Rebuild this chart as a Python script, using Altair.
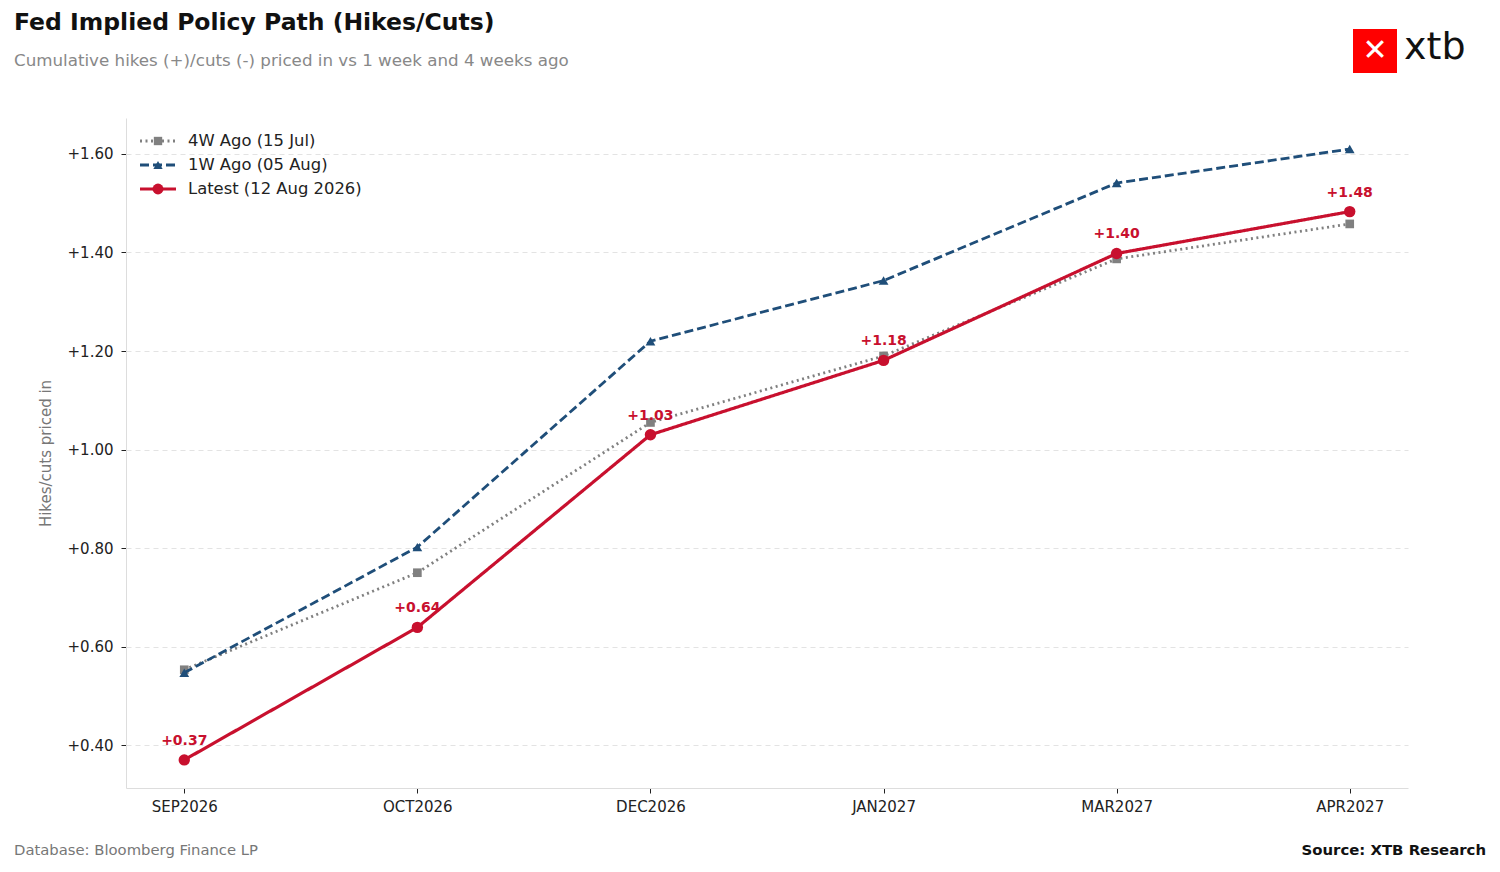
import pandas as pd
import altair as alt

months = ["SEP2026", "OCT2026", "DEC2026", "JAN2027", "MAR2027", "APR2027"]
ago_4w = [0.553, 0.750, 1.055, 1.190, 1.387, 1.458]
ago_1w = [0.547, 0.802, 1.220, 1.343, 1.541, 1.610]
latest = [0.370, 0.639, 1.030, 1.181, 1.398, 1.483]
series_names = ["4W Ago (15 Jul)", "1W Ago (05 Aug)", "Latest (12 Aug 2026)"]

W, H = 1282, 670
FONT = "DejaVu Sans"

x_enc = alt.X("month:N", sort=months, title=None,
              scale=alt.Scale(type="point", padding=0.25),
              axis=alt.Axis(labelAngle=0, labelFontSize=15, labelColor="#222",
                            domainColor="#ddd", tickColor="#222", tickSize=5,
                            labelPadding=6, grid=False, labelFont=FONT))
y_enc = alt.Y("value:Q", title="Hikes/cuts priced in",
              scale=alt.Scale(domain=[0.313, 1.673], nice=False, zero=False),
              axis=alt.Axis(values=[0.4, 0.6, 0.8, 1.0, 1.2, 1.4, 1.6], format="+.2f",
                            labelFontSize=15, labelColor="#222", domainColor="#ddd",
                            tickColor="#222", tickSize=5, grid=True, gridColor="#e3e3e3",
                            gridDash=[5, 4], titleFontSize=15, titleColor="#777",
                            titleFontWeight="normal", titlePadding=14, labelPadding=8,
                            labelFont=FONT, titleFont=FONT))


def series(vals, color, dash, width, shape, size):
    df = pd.DataFrame({"month": months, "value": vals})
    base = alt.Chart(df).encode(x=x_enc, y=y_enc)
    line = base.mark_line(color=color, strokeDash=dash, strokeWidth=width)
    pts = base.mark_point(color=color, filled=True, opacity=1, shape=shape, size=size)
    return line + pts


l4 = series(ago_4w, "#808080", [2, 3.5], 2.8, "square", 75)
l1 = series(ago_1w, "#1f4e79", [9, 4], 2.8, "triangle-up", 95)
ll = series(latest, "#c8102e", [1, 0], 3.2, "circle", 130)

lab_df = pd.DataFrame({"month": months, "value": latest,
                       "label": [f"{v:+.2f}" for v in latest]})
labels = alt.Chart(lab_df).mark_text(color="#c8102e", fontWeight="bold", fontSize=14,
                                     dy=-19, font=FONT).encode(x=x_enc, y=y_enc, text="label:N")

# manual legend
leg_rows = [(23, "#808080", [2, 3.5], "square", 70),
            (47, "#1f4e79", [9, 4], "triangle-up", 85),
            (71, "#c8102e", [1, 0], "circle", 120)]
legend = []
for (yy, c, d, s, sz), name in zip(leg_rows, series_names):
    one = pd.DataFrame({"t": [name]})
    legend.append(alt.Chart(one).mark_rule(color=c, strokeDash=d, strokeWidth=2.8).encode(
        x=alt.value(14), x2=alt.value(50), y=alt.value(yy)))
    legend.append(alt.Chart(one).mark_point(color=c, filled=True, opacity=1, shape=s, size=sz).encode(
        x=alt.value(32), y=alt.value(yy)))
    legend.append(alt.Chart(one).mark_text(align="left", baseline="middle", fontSize=16.4,
                                           color="#222", font=FONT).encode(
        x=alt.value(62), y=alt.value(yy), text="t:N"))


def txt(s, x, y, size, color, weight="normal", align="left"):
    return alt.Chart(pd.DataFrame({"t": [s]})).mark_text(
        align=align, baseline="middle", fontSize=size, color=color, fontWeight=weight,
        font=FONT).encode(x=alt.value(x), y=alt.value(y), text="t:N")


title = txt("Fed Implied Policy Path (Hikes/Cuts)", -112, -95, 23.5, "#111", "bold")
subtitle = txt("Cumulative hikes (+)/cuts (-) priced in vs 1 week and 4 weeks ago", -112, -57, 16.7, "#888")
foot_l = txt("Database: Bloomberg Finance LP", -112, 733, 14.8, "#777")
foot_r = txt("Source: XTB Research", 1360, 733, 14.9, "#111", "bold", "right")
logo_box = alt.Chart(pd.DataFrame({"t": ["logo"]})).mark_rect(color="#ff0000").encode(
    x=alt.value(1227), x2=alt.value(1271), y=alt.value(-89), y2=alt.value(-45))
logo_x = txt("✕", 1249, -67, 30, "white", "bold", "center")
logo_t = txt("xtb", 1278, -70, 38, "#111", "normal")

chart = alt.layer(l4, l1, ll, labels, *legend, title, subtitle, foot_l, foot_r,
                  logo_box, logo_x, logo_t).properties(
    width=W, height=H,
    autosize=alt.AutoSizeParams(type="none"),
    padding={"left": 118, "top": 110, "right": 84, "bottom": 76},
).configure_view(stroke=None)

chart.save("out.html", embed_options={"renderer": "svg", "actions": False})
